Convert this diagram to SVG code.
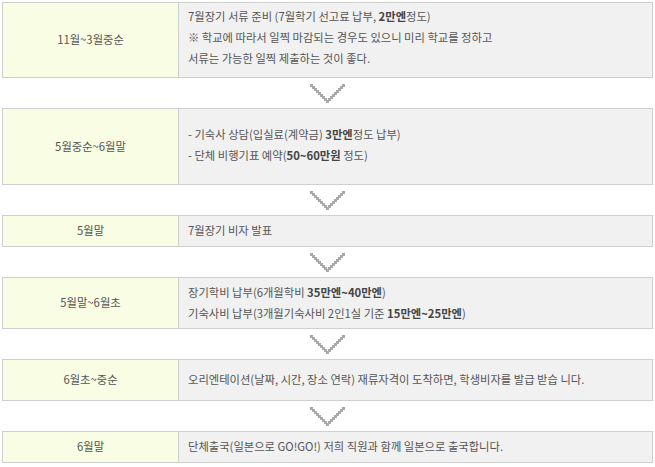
<svg xmlns="http://www.w3.org/2000/svg" width="655" height="467" viewBox="0 0 655 467">
<style>
.l{fill:#f9fde3;stroke:#cfcfcf;stroke-width:1}
.r{fill:#f1f1f1;stroke:#cfcfcf;stroke-width:1}
text{font-family:"Noto Sans CJK KR","Noto Sans",sans-serif;font-size:11.3px;fill:#555}
.c{text-anchor:middle}
.b{font-weight:bold;fill:#444}
.px{fill:#a9a9a9}
</style>
<defs>
<g id="chev">
<rect class="px" x="0" y="0" width="3" height="3"/>
<rect class="px" x="2" y="2" width="3" height="3"/>
<rect class="px" x="4" y="4" width="3" height="3"/>
<rect class="px" x="6" y="6" width="3" height="3"/>
<rect class="px" x="8" y="8" width="3" height="3"/>
<rect class="px" x="10" y="10" width="3" height="3"/>
<rect class="px" x="12" y="12" width="3" height="3"/>
<rect class="px" x="14" y="14" width="3" height="3"/>
<rect class="px" x="16" y="16" width="3" height="3"/>
<rect class="px" x="18" y="14" width="3" height="3"/>
<rect class="px" x="20" y="12" width="3" height="3"/>
<rect class="px" x="22" y="10" width="3" height="3"/>
<rect class="px" x="24" y="8" width="3" height="3"/>
<rect class="px" x="26" y="6" width="3" height="3"/>
<rect class="px" x="28" y="4" width="3" height="3"/>
<rect class="px" x="30" y="2" width="3" height="3"/>
<rect class="px" x="32" y="0" width="3" height="3"/>
</g>
</defs>
<rect width="655" height="467" fill="#fff"/>
<g id="n1">
<rect class="l" x="2.5" y="2.5" width="176" height="75"/>
<rect class="r" x="178.5" y="2.5" width="474" height="75"/>
<text class="c" x="90.5" y="44">11월~3월중순</text>
<text x="188" y="21">7월장기 서류 준비 (7월학기 선고료 납부, <tspan class="b">2만엔</tspan>정도)</text>
<text x="188" y="42">※ 학교에 따라서 일찍 마감되는 경우도 있으니 미리 학교를 정하고</text>
<text x="188" y="63">서류는 가능한 일찍 제출하는 것이 좋다.</text>
</g>
<g id="n2">
<rect class="l" x="2.5" y="108.5" width="176" height="76"/>
<rect class="r" x="178.5" y="108.5" width="474" height="76"/>
<text class="c" x="90.5" y="151">5월중순~6월말</text>
<text x="188" y="139">- 기숙사 상담(입실료(계약금) <tspan class="b">3만엔</tspan>정도 납부)</text>
<text x="188" y="160">- 단체 비행기표 예약(<tspan class="b">50~60만원</tspan> 정도)</text>
</g>
<g id="n3">
<rect class="l" x="2.5" y="215.5" width="176" height="31"/>
<rect class="r" x="178.5" y="215.5" width="474" height="31"/>
<text class="c" x="90.5" y="235">5월말</text>
<text x="188" y="235">7월장기 비자 발표</text>
</g>
<g id="n4">
<rect class="l" x="2.5" y="277.5" width="176" height="51"/>
<rect class="r" x="178.5" y="277.5" width="474" height="51"/>
<text class="c" x="90.5" y="307">5월말~6월초</text>
<text x="188" y="297">장기학비 납부(6개월학비 <tspan class="b">35만엔~40만엔</tspan>)</text>
<text x="188" y="318">기숙사비 납부(3개월기숙사비 2인1실 기준 <tspan class="b">15만엔~25만엔</tspan>)</text>
</g>
<g id="n5">
<rect class="l" x="2.5" y="359.5" width="176" height="41"/>
<rect class="r" x="178.5" y="359.5" width="474" height="41"/>
<text class="c" x="90.5" y="384">6월초~중순</text>
<text x="188" y="384">오리엔테이션(날짜, 시간, 장소 연락) 재류자격이 도착하면, 학생비자를 발급 받습 니다.</text>
</g>
<g id="n6">
<rect class="l" x="2.5" y="431.5" width="176" height="31"/>
<rect class="r" x="178.5" y="431.5" width="474" height="31"/>
<text class="c" x="90.5" y="451">6월말</text>
<text x="188" y="451">단체출국(일본으로 GO!GO!) 저희 직원과 함께 일본으로 출국합니다.</text>
</g>
<g id="connectors">
<use href="#chev" x="310" y="84"/>
<use href="#chev" x="310" y="191"/>
<use href="#chev" x="310" y="253"/>
<use href="#chev" x="310" y="335"/>
<use href="#chev" x="310" y="407"/>
</g>
</svg>
